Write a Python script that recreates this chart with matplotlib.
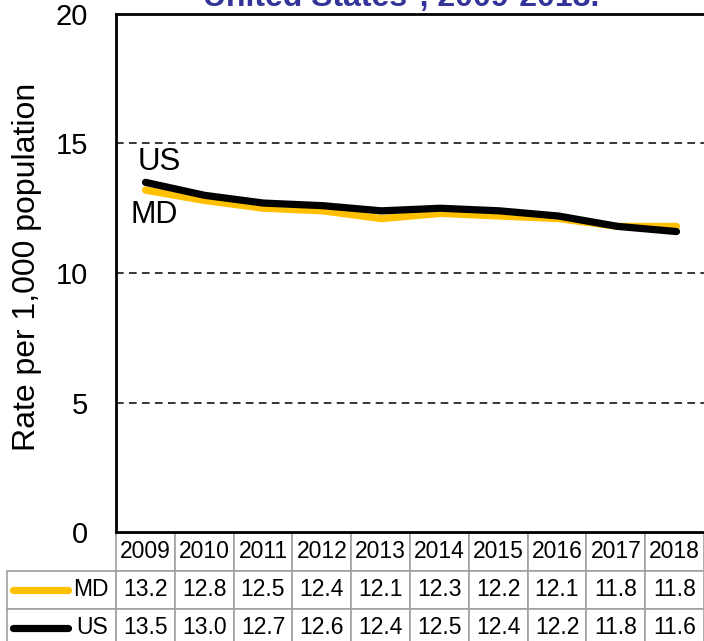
import numpy as np
import matplotlib
matplotlib.use("Agg")
import matplotlib.pyplot as plt
from matplotlib.table import Table

plt.rcParams['font.family'] = ['Liberation Sans', 'DejaVu Sans']

years = ['2009', '2010', '2011', '2012', '2013', '2014', '2015', '2016', '2017', '2018']
md_rate = [13.2, 12.8, 12.5, 12.4, 12.1, 12.3, 12.2, 12.1, 11.8, 11.8]
us_rate = [13.5, 13.0, 12.7, 12.6, 12.4, 12.5, 12.4, 12.2, 11.8, 11.6]
series_names = ['MD', 'US']
series_colors = ['#FFC000', '#000000']
yticks = [0, 5, 10, 15, 20]

W, H = 704, 641
fig = plt.figure(figsize=(W / 100, H / 100), dpi=100)

# axes box in pixels: left 116, right 706, top 14, bottom 532
ax_l, ax_r, ax_t, ax_b = 116, 706, 14, 532
ax_w = ax_r - ax_l
ax_h = ax_b - ax_t
ax = fig.add_axes([ax_l / W, 1 - ax_b / H, ax_w / W, ax_h / H])

x = np.arange(len(years))
ax.plot(x, md_rate, color=series_colors[0], lw=5.2, solid_capstyle='round', zorder=3)
ax.plot(x, us_rate, color=series_colors[1], lw=5.2, solid_capstyle='round', zorder=4)

ax.text(-0.14, 14.3, 'US', fontsize=22.5, ha='left', va='center')
ax.text(-0.26, 12.25, 'MD', fontsize=22, ha='left', va='center')

ax.set_xlim(-0.5, len(years) - 0.5)
ax.set_ylim(0, 20)
ax.set_yticks(yticks)
ax.set_xticks([])
ax.tick_params(axis='y', length=0, pad=20, labelsize=21)
for s in ['left', 'top', 'bottom']:
    ax.spines[s].set_linewidth(2)
    ax.spines[s].set_color('black')
ax.spines['right'].set_visible(False)
for v in yticks[1:-1]:
    ax.axhline(v, color='black', lw=1.1, ls=(0, (5, 3.5)), zorder=1)

ax.set_ylabel('Rate per 1,000 population', fontsize=23)
ax.yaxis.set_label_coords((42 - ax_l) / ax_w, (ax_b - 267) / ax_h)

fig.text(0.57, 1 - 6 / H, 'United States*, 2009-2018.', ha='center', va='baseline',
         color='#333399', fontsize=23, fontweight='bold')

# data table under the chart (cell sizes in axes units)
tab_l, grid_r, tab_t, row_h = 7, 704, 533, 38
col_w = (grid_r - ax_l) / len(years) / ax_w
lab_w = (ax_l - tab_l) / ax_w
cell_h = row_h / ax_h
tb = Table(ax, bbox=[0, (ax_b - tab_t - 3 * row_h) / ax_h,
                     col_w * len(years), 3 * cell_h])
for j, yr in enumerate(years):
    tb.add_cell(0, j, width=col_w, height=cell_h, text=yr, loc='center')
for i, (name, vals) in enumerate(zip(series_names, [md_rate, us_rate]), start=1):
    c = tb.add_cell(i, -1, width=lab_w, height=cell_h, text=name, loc='right')
    c.PAD = 0.07
    for j, v in enumerate(vals):
        tb.add_cell(i, j, width=col_w, height=cell_h, text=f'{v:.1f}', loc='center')
for cell in tb.get_celld().values():
    cell.set_edgecolor('#A0A0A0')
    cell.set_linewidth(1.2)
tb.auto_set_font_size(False)
tb.set_fontsize(16.5)
ax.add_table(tb)
tb.set_clip_on(False)

# legend keys in the row label cells
for i, c in enumerate(series_colors):
    yc = (ax_b - (tab_t + row_h * (i + 1.5))) / ax_h
    ax.plot([(13 - ax_l) / ax_w, (68 - ax_l) / ax_w], [yc, yc], color=c, lw=5.2,
            solid_capstyle='round', transform=ax.transAxes, clip_on=False)

fig.savefig('out.png', dpi=100)
